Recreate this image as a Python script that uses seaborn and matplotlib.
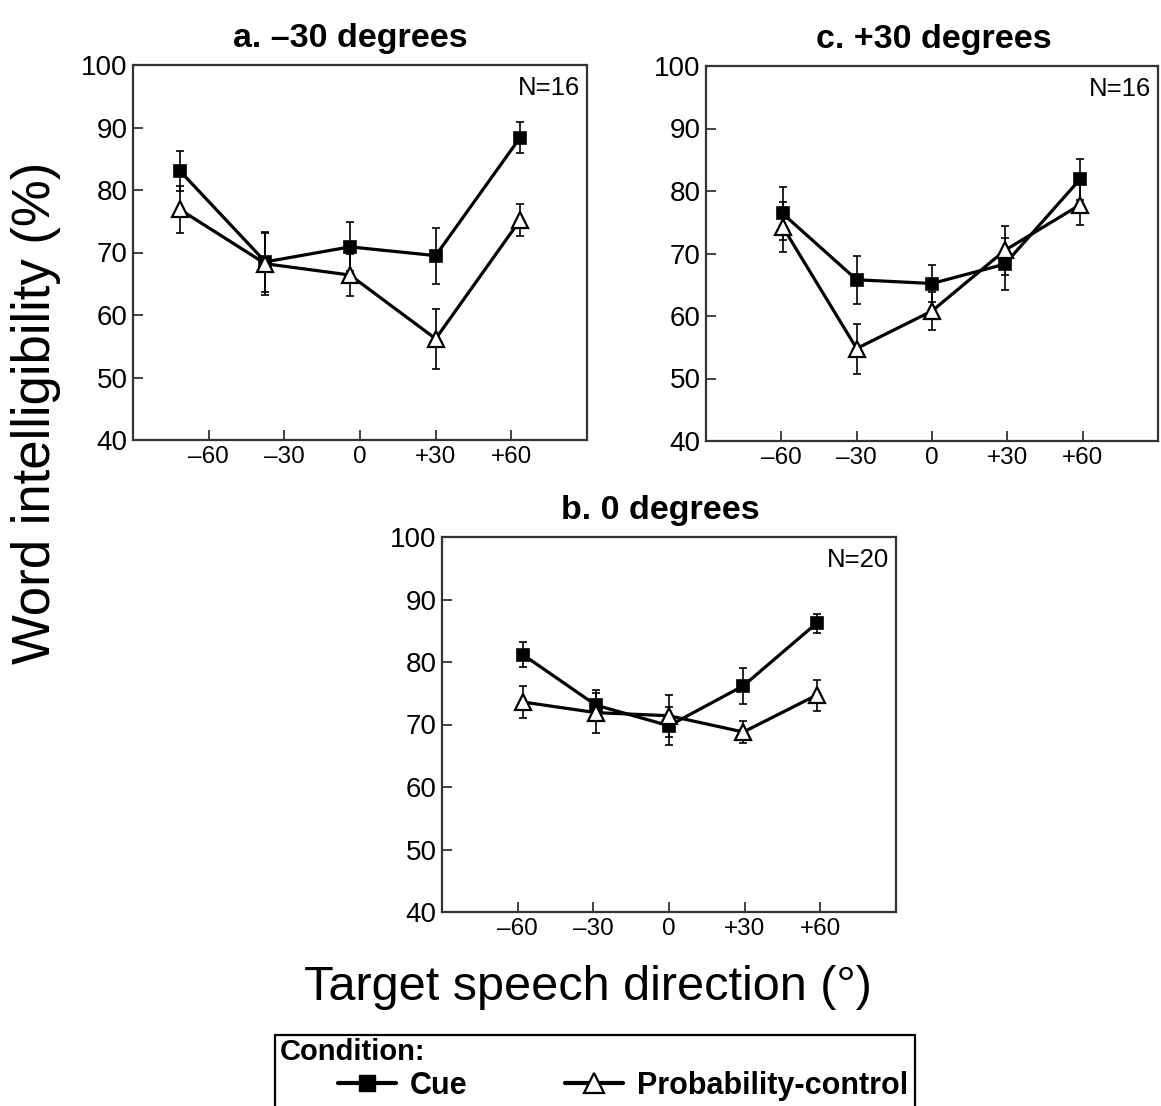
import pandas as pd
import matplotlib.pyplot as plt
import seaborn as sea
from matplotlib.lines import Line2D
from matplotlib.patches import Rectangle

# data (mean word intelligibility %, and the error bar half-lengths)
conditions = ['Cue', 'Probability-control']
tick_dirs = [-60, -30, 0, 30, 60]
tick_labels = ['\u201360', '\u201330', '0', '+30', '+60']

dir_a = [-71.5, -37.5, -4, 30, 63.5]
cue_a = [83.1, 68.5, 70.9, 69.5, 88.4]
cue_a_se = [3.2, 4.8, 3.9, 4.5, 2.4]
prob_a = [76.9, 68.2, 66.4, 56.2, 75.2]
prob_a_se = [3.7, 5.0, 3.3, 4.8, 2.6]

dir_c = [-59.5, -30, 0, 29, 59]
cue_c = [76.4, 65.8, 65.2, 68.3, 81.9]
cue_c_se = [4.2, 3.8, 3.0, 4.2, 3.3]
prob_c = [74.3, 54.8, 60.8, 70.5, 77.8]
prob_c_se = [4.0, 4.0, 3.1, 3.9, 3.3]

dir_b = [-58, -29, 0, 29.5, 58.5]
cue_b = [81.2, 73.1, 69.8, 76.2, 86.2]
cue_b_se = [2.0, 2.4, 3.0, 2.9, 1.5]
prob_b = [73.6, 71.9, 71.4, 68.8, 74.7]
prob_b_se = [2.6, 3.2, 3.4, 1.8, 2.5]


def make_frame(dirs, cue, cue_se, prob, prob_se):
    rows = []
    for d, v, s in zip(dirs, cue, cue_se):
        rows.append({'direction': d, 'score': v, 'se': s, 'condition': 'Cue'})
    for d, v, s in zip(dirs, prob, prob_se):
        rows.append({'direction': d, 'score': v, 'se': s, 'condition': 'Probability-control'})
    return pd.DataFrame(rows)


styles = {
    'Cue': dict(marker='s', markersize=9, markerfacecolor='black', markeredgecolor='black', markeredgewidth=1.2),
    'Probability-control': dict(marker='^', markersize=11.5, markerfacecolor='white', markeredgecolor='black', markeredgewidth=1.6),
}

sea.set_theme(style='ticks', rc={'text.color': 'black', 'axes.labelcolor': 'black',
                                 'xtick.color': 'black', 'ytick.color': 'black'})
plt.rcParams['font.family'] = ['Liberation Sans', 'DejaVu Sans']

fig = plt.figure(figsize=(11.61, 11.06), dpi=100)
W, H = 1161.0, 1106.0


def panel(rect, df, title, title_x, n_label):
    l, t, r, b = rect
    ax = fig.add_axes([l / W, 1 - b / H, (r - l) / W, (b - t) / H])
    for cond in conditions:
        sub = df[df['condition'] == cond]
        ax.errorbar(sub['direction'], sub['score'], yerr=sub['se'], fmt='none', ecolor='black',
                    elinewidth=1.2, capsize=3, capthick=1.2, zorder=2)
        sea.lineplot(data=sub, x='direction', y='score', ax=ax, color='black', linewidth=2.3,
                     errorbar=None, sort=False, zorder=3, **styles[cond])
    ax.set_xlim(-90, 90)
    ax.set_ylim(40, 100)
    ax.set_xticks(tick_dirs)
    ax.set_xticklabels(tick_labels)
    ax.set_yticks(range(40, 101, 10))
    ax.set_xlabel('')
    ax.set_ylabel('')
    ax.tick_params(direction='in', length=7, width=1.3, color='#333333', labelcolor='black',
                   top=False, right=False)
    ax.tick_params(axis='x', labelsize=17.5, pad=4)
    ax.tick_params(axis='y', labelsize=20, pad=4)
    for sp in ax.spines.values():
        sp.set_visible(True)
        sp.set_color('#333333')
        sp.set_linewidth(1.6)
    ax.set_title(title, fontsize=24.5, fontweight='bold', x=title_x, pad=13)
    ax.text(0.985, 0.939, n_label, transform=ax.transAxes, ha='right', va='center', fontsize=18.5)
    return ax


panel((133, 65, 587, 440), make_frame(dir_a, cue_a, cue_a_se, prob_a, prob_a_se), 'a. \u201330 degrees', 0.478, 'N=16')
panel((706, 66, 1158, 441), make_frame(dir_c, cue_c, cue_c_se, prob_c, prob_c_se), 'c. +30 degrees', 0.504, 'N=16')
panel((442, 537, 896, 912), make_frame(dir_b, cue_b, cue_b_se, prob_b, prob_b_se), 'b. 0 degrees', 0.48, 'N=20')

fig.text(36 / W, 1 - 413 / H, 'Word intelligibility (%)', rotation=90, ha='center', va='center', fontsize=38)
fig.text(588 / W, 1 - 988 / H, 'Target speech direction (\u00b0)', ha='center', va='center', fontsize=35)

# legend box running off the bottom edge
fig.patches.append(Rectangle((275 / W, -0.05), (915 - 275) / W, (1 - 1035 / H) + 0.05,
                             transform=fig.transFigure, facecolor='none', edgecolor='black', linewidth=1.6))
fig.text(280 / W, 1 - 1052 / H, 'Condition:', ha='left', va='center', fontsize=21, fontweight='bold')
leg_styles = {
    'Cue': dict(marker='s', markersize=11, markerfacecolor='black', markeredgecolor='black'),
    'Probability-control': dict(marker='^', markersize=15, markerfacecolor='white', markeredgecolor='black',
                                markeredgewidth=1.6),
}
handles = [Line2D([], [], color='black', linewidth=3, **leg_styles[c]) for c in conditions]
fig.legend(handles, conditions, loc='center left', bbox_to_anchor=(338 / W, 1 - 1086 / H), ncol=2,
           frameon=False, borderpad=0, borderaxespad=0, handlelength=1.9, handletextpad=0.45,
           columnspacing=3.2, prop={'weight': 'bold', 'size': 22})

fig.savefig('out.png', dpi=100)
